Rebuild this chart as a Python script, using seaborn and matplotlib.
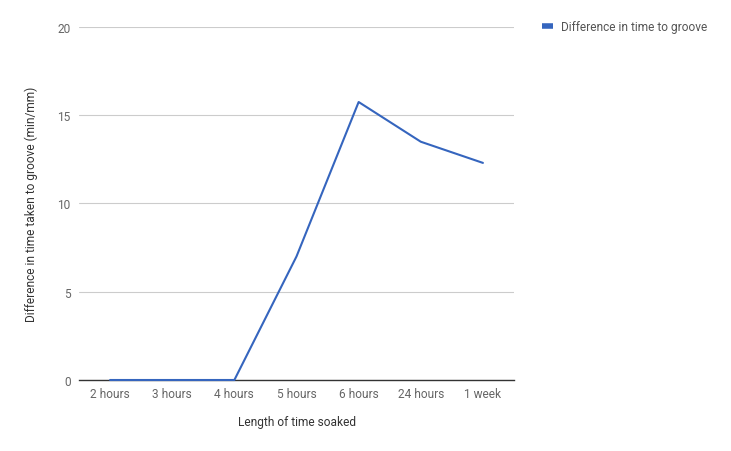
import matplotlib
matplotlib.use("Agg")
import matplotlib.pyplot as plt
import seaborn as sns
import pandas as pd
from matplotlib.lines import Line2D

categories = ["2 hours", "3 hours", "4 hours", "5 hours", "6 hours", "24 hours", "1 week"]
values = [0, 0, 0, 7.0, 15.75, 13.5, 12.3]
series_name = "Difference in time to groove"
yticks = [0, 5, 10, 15, 20]

sns.set_theme(style="white")
plt.rcParams['font.family'] = ['Roboto', 'DejaVu Sans']

df = pd.DataFrame({"cat": categories, "val": values})
df["pos"] = range(len(categories))

fig = plt.figure(figsize=(7.31, 4.52), dpi=100)
ax = fig.add_axes([79/731, 1 - 381/452, (514 - 79)/731, (381 - 28)/452])

color = "#3565be"
sns.lineplot(data=df, x="pos", y="val", ax=ax, color=color, linewidth=1.5, sort=False, zorder=4)
for ln in ax.lines:
    ln.set_clip_on(False)

ax.set_xlim(-0.5, len(categories) - 0.5)
ax.set_ylim(0, 20)
ax.set_xticks(range(len(categories)))
ax.set_xticklabels(categories)
ax.set_yticks(yticks)
ax.set_yticklabels([str(t) for t in yticks])
ax.yaxis.grid(True, color="#cccccc", linewidth=0.8)
ax.set_axisbelow(True)
for s in ["top", "right", "left"]:
    ax.spines[s].set_visible(False)
ax.spines["bottom"].set_color("#333333")
ax.spines["bottom"].set_linewidth(1.0)
ax.spines["bottom"].set_zorder(3)
ax.tick_params(axis="both", length=0, labelsize=8.6, labelcolor="#666666")
ax.tick_params(axis="y", pad=6)
ax.tick_params(axis="x", pad=5)

ax.set_xlabel("Length of time soaked", fontsize=8.6, color="#333333", labelpad=11)
ax.set_ylabel("Difference in time taken to groove (min/mm)", fontsize=8.6, color="#333333", labelpad=14)

handle = Line2D([0], [0], color=color, linewidth=4, solid_capstyle="butt")
fig.legend([handle], [series_name], loc="center left", bbox_to_anchor=(537/731, 1 - 28/452),
           frameon=False, fontsize=8.6, labelcolor="#555555", handlelength=0.9, handletextpad=0.7,
           borderaxespad=0)

fig.savefig("out.png", dpi=100)
